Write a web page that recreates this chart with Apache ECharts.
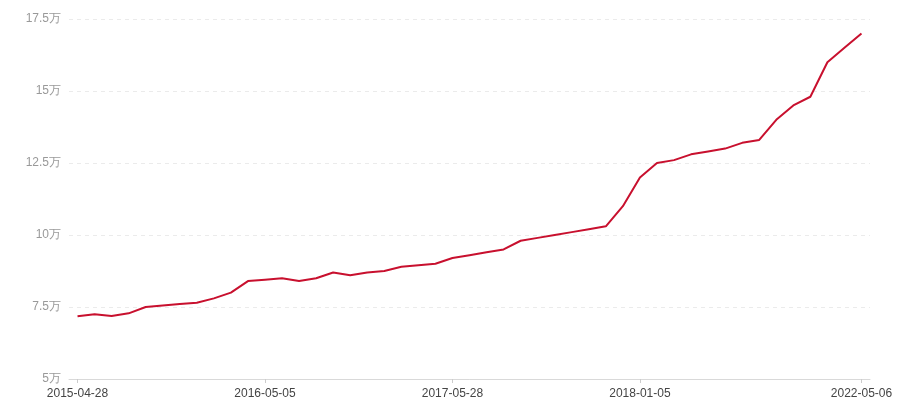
<!DOCTYPE html>
<html>
<head>
<meta charset="utf-8">
<script src="https://cdn.jsdelivr.net/npm/echarts@6/dist/echarts.min.js"></script>
<style>html,body{margin:0;padding:0;background:#fff;}#chart{width:900px;height:400px;}</style>
</head>
<body>
<div id="chart"></div>
<script>
var categories = [
  '2015-04-28','2015-05-28','2015-06-28','2015-07-28','2015-08-28','2015-09-28','2015-10-28','2015-11-28','2015-12-28','2016-01-28','2016-03-05',
  '2016-05-05','2016-06-05','2016-07-05','2016-08-05','2016-09-05','2016-10-05','2016-11-05','2016-12-05','2017-01-05','2017-02-28','2017-04-28',
  '2017-05-28','2017-06-18','2017-07-08','2017-07-28','2017-08-18','2017-09-08','2017-09-28','2017-10-18','2017-11-08','2017-11-28','2017-12-18',
  '2018-01-05','2018-05-05','2018-09-05','2019-01-05','2019-05-05','2019-09-05','2020-01-05','2020-05-05','2020-09-05','2021-01-05','2021-05-05','2021-09-05','2022-01-05',
  '2022-05-06'
];
var prices = [
  71800, 72500, 71900, 72800, 75000, 75500, 76000, 76500, 78000, 80000, 84000,
  84500, 85000, 84000, 85000, 87000, 86000, 87000, 87500, 89000, 89500, 90000,
  92000, 93000, 94000, 95000, 98000, 99000, 100000, 101000, 102000, 103000, 110000,
  120000, 125000, 126000, 128000, 129000, 130000, 132000, 133000, 140000, 145000, 148000, 160000, 165000,
  170000
];
var labelIdx = [0, 11, 22, 33, 46];
var yMin = 50000, yMax = 175000, yStep = 25000;

var chart = echarts.init(document.getElementById('chart'));
var showFn = function (i) { return labelIdx.indexOf(i) >= 0; };
chart.setOption({
  animation: false,
  grid: { left: 69, right: 30, top: 19, bottom: 20, containLabel: false },
  xAxis: {
    type: 'category',
    data: categories,
    boundaryGap: true,
    axisLine: { lineStyle: { color: '#d9d9d9' } },
    axisTick: { show: true, alignWithLabel: true, length: 4, interval: showFn, lineStyle: { color: '#cccccc' } },
    axisLabel: { interval: showFn, color: '#444', fontSize: 12, margin: 9, fontFamily: 'sans-serif' }
  },
  yAxis: {
    type: 'value',
    min: yMin, max: yMax, interval: yStep,
    axisLine: { show: false },
    axisTick: { show: false },
    axisLabel: { color: '#999', fontSize: 12, margin: 8, fontFamily: 'sans-serif',
      formatter: function (v) { return (v / 10000) + '万'; } },
    splitLine: { lineStyle: { color: '#ebebeb', type: [4, 4] } }
  },
  series: [{
    type: 'line',
    data: prices,
    showSymbol: false,
    symbol: 'none',
    lineStyle: { color: '#c8102e', width: 2 },
    itemStyle: { color: '#c8102e' }
  }]
});
</script>
</body>
</html>
